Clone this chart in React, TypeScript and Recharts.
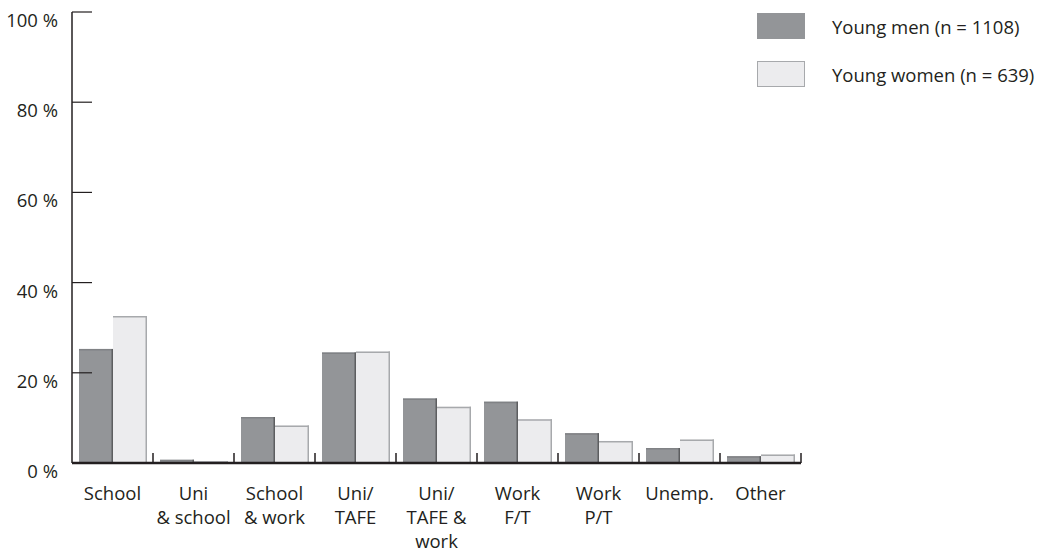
import { Bar, BarChart, XAxis, YAxis } from 'recharts';

// Activity by gender, share of each group (%).
const categories = [
  'School',
  'Uni\n& school',
  'School\n& work',
  'Uni/\nTAFE',
  'Uni/\nTAFE &\nwork',
  'Work\nF/T',
  'Work\nP/T',
  'Unemp.',
  'Other',
];
const youngMen = [25.3, 0.7, 10.2, 24.5, 14.3, 13.6, 6.6, 3.3, 1.5];
const youngWomen = [32.6, 0.4, 8.3, 24.7, 12.5, 9.7, 4.9, 5.2, 1.9];
const yTicks = [0, 20, 40, 60, 80, 100];
const seriesLabels = ['Young men (n = 1108)', 'Young women (n = 639)'];

const data = categories.map((name, i) => ({ name, men: youngMen[i], women: youngWomen[i] }));

const WIDTH = 1045;
const HEIGHT = 552;
const MARGIN = { top: 12, right: 244, bottom: 0, left: 0 };
const Y_AXIS_WIDTH = 72;
const X_AXIS_HEIGHT = 89;
const INK = '#231f20';
const FONT = '"Open Sans", sans-serif';
const FONT_SIZE = 18.5;
const bandWidth = (WIDTH - MARGIN.left - MARGIN.right - Y_AXIS_WIDTH) / categories.length;

const MEN = { fill: '#939598', edge: '#5d5e60', top: '#808285' };
const WOMEN = { fill: '#ececee', edge: '#a7a9ac', top: '#a7a9ac' };

function makeShape(c: { fill: string; edge: string; top: string }) {
  return (props: any) => {
    const { x, y, width, height } = props;
    if (!height || height <= 0) return <g />;
    return (
      <g>
        <rect x={x} y={y} width={width} height={height} fill={c.fill} />
        <line x1={x} x2={x + width} y1={y + 0.75} y2={y + 0.75} stroke={c.top} strokeWidth={1.5} />
        <line x1={x + width - 0.75} x2={x + width - 0.75} y1={y} y2={y + height} stroke={c.edge} strokeWidth={1.5} />
      </g>
    );
  };
}

function XTick(props: any) {
  const { x, y, payload } = props;
  const lines = String(payload.value).split('\n');
  const bx = x + bandWidth / 2;
  return (
    <g>
      <line x1={bx} x2={bx} y1={y} y2={y - 10} stroke={INK} strokeWidth={1.5} />
      {lines.map((l, i) => (
        <text
          key={i}
          x={x}
          y={y + 37 + i * 24}
          textAnchor="middle"
          fontSize={FONT_SIZE}
          fontFamily={FONT}
          fill={INK}
        >
          {l}
        </text>
      ))}
    </g>
  );
}

function YTick(props: any) {
  const { x, y, payload } = props;
  return (
    <g>
      <line x1={x} x2={x + 20} y1={y} y2={y} stroke={INK} strokeWidth={1.2} />
      <text x={x - 14} y={y + 15} textAnchor="end" fontSize={FONT_SIZE} fontFamily={FONT} fill={INK}>
        {`${payload.value} %`}
      </text>
    </g>
  );
}

function LegendBox() {
  const items = [
    { label: seriesLabels[0], c: MEN, border: 'none' },
    { label: seriesLabels[1], c: WOMEN, border: `1.5px solid ${WOMEN.edge}` },
  ];
  return (
    <div
      style={{
        position: 'absolute',
        left: 757,
        top: 13,
        fontFamily: FONT,
        fontSize: FONT_SIZE,
        color: INK,
      }}
    >
      {items.map((it) => (
        <div key={it.label} style={{ display: 'flex', alignItems: 'center', height: 26, marginBottom: 22 }}>
          <div
            style={{
              width: 48,
              height: 26,
              boxSizing: 'border-box',
              background: it.c.fill,
              border: it.border,
            }}
          />
          <span style={{ marginLeft: 27, whiteSpace: 'nowrap' }}>{it.label}</span>
        </div>
      ))}
    </div>
  );
}

export default function App() {
  return (
    <div style={{ position: 'relative', width: WIDTH, height: HEIGHT }}>
      <style>{'body{margin:0;background:#fff}'}</style>
      <BarChart
        width={WIDTH}
        height={HEIGHT}
        data={data}
        margin={MARGIN}
        barCategoryGap={7}
        barGap={0}
      >
        <XAxis
          dataKey="name"
          height={X_AXIS_HEIGHT}
          interval={0}
          tickSize={0}
          tickMargin={0}
          tickLine={false}
          axisLine={{ stroke: INK, strokeWidth: 2.5 }}
          tick={<XTick />}
        />
        <YAxis
          width={Y_AXIS_WIDTH}
          domain={[0, 100]}
          ticks={yTicks}
          tickSize={0}
          tickMargin={0}
          tickLine={false}
          axisLine={{ stroke: INK, strokeWidth: 1.5 }}
          tick={<YTick />}
        />
        <Bar dataKey="men" name={seriesLabels[0]} shape={makeShape(MEN)} isAnimationActive={false} />
        <Bar dataKey="women" name={seriesLabels[1]} shape={makeShape(WOMEN)} isAnimationActive={false} />
      </BarChart>
      <LegendBox />
    </div>
  );
}
